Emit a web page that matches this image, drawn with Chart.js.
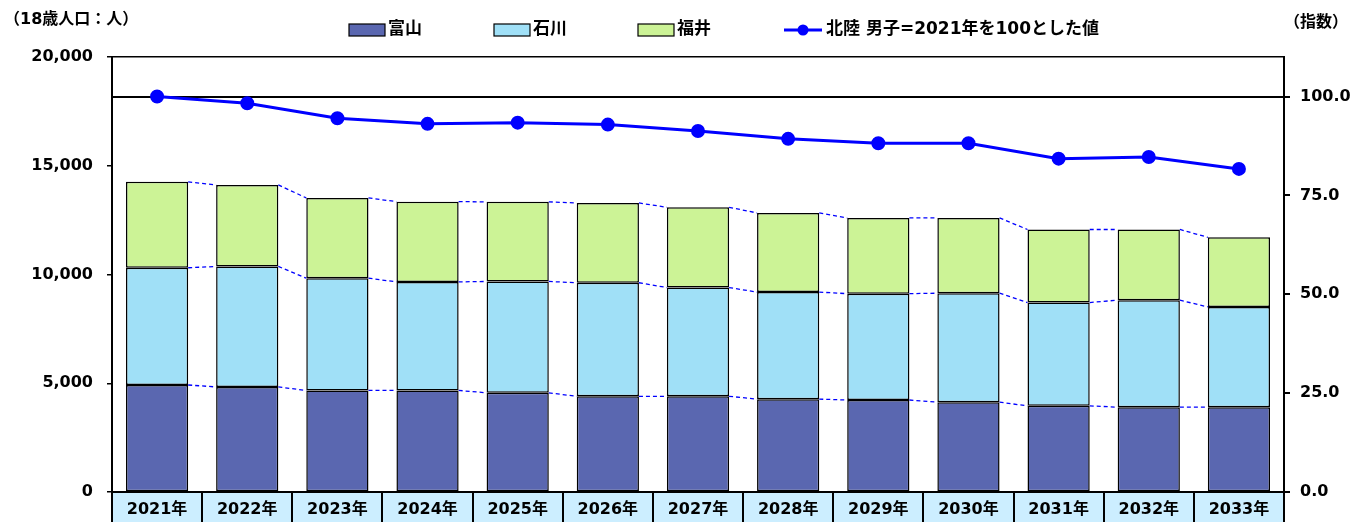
<!DOCTYPE html>
<html>
<head>
<meta charset="utf-8">
<script src="https://cdn.jsdelivr.net/npm/chart.js@4.4.1/dist/chart.umd.min.js"></script>
<style>
  html, body { margin: 0; padding: 0; background: #fff; }
</style>
</head>
<body>
<canvas id="chart" width="1361" height="522"></canvas>
<script>
const years = ['2021年', '2022年', '2023年', '2024年', '2025年', '2026年', '2027年',
  '2028年', '2029年', '2030年', '2031年', '2032年', '2033年']
const toyama = [4920, 4830, 4670, 4670, 4560, 4400, 4400, 4270, 4230, 4130, 3960, 3900, 3900]
const ishikawa = [5390, 5540, 5160, 4990, 5120, 5220, 5000, 4920, 4890, 5010, 4750, 4920, 4610]
const fukui = [3950, 3750, 3690, 3690, 3660, 3670, 3690, 3640, 3480, 3460, 3360, 3250, 3200]
const hokurikuIndex = [100, 98.3, 94.5, 93.1, 93.4, 92.9, 91.3, 89.3, 88.2, 88.2, 84.3, 84.7, 81.7]
const leftTicks = [0, 5000, 10000, 15000, 20000]
const rightTicks = [0, 25, 50, 75, 100]

const FONT = "'DejaVu Sans', 'Noto Sans CJK JP', sans-serif"

// light blue label cells under the plot, like a table header row
const cellPlugin = {
  id: 'cells',
  beforeDraw(chart) {
    const {ctx, chartArea, scales: {x}} = chart
    const step = x.getPixelForValue(1) - x.getPixelForValue(0)
    ctx.save()
    ctx.fillStyle = '#CCEEFF'
    ctx.fillRect(chartArea.left, chartArea.bottom, chartArea.right - chartArea.left, chart.height - chartArea.bottom)
    ctx.strokeStyle = '#000'
    ctx.lineWidth = 2
    for (let i = 0; i <= years.length; i++) {
      const px = Math.round(x.getPixelForValue(i) - step / 2)
      ctx.beginPath()
      ctx.moveTo(px, chartArea.bottom)
      ctx.lineTo(px, chart.height)
      ctx.stroke()
    }
    ctx.restore()
  }
}

// dashed blue lines joining the segment tops of neighbouring bars
const connectorPlugin = {
  id: 'connectors',
  beforeDatasetsDraw(chart) {
    const {ctx} = chart
    ctx.save()
    ctx.strokeStyle = '#0000FF'
    ctx.lineWidth = 1.3
    ctx.setLineDash([4, 3])
    chart.data.datasets.forEach((ds, d) => {
      if (ds.type === 'line') return
      const bars = chart.getDatasetMeta(d).data
      for (let i = 0; i < bars.length - 1; i++) {
        const a = bars[i].getProps(['x', 'y', 'width'], true)
        const b = bars[i + 1].getProps(['x', 'y', 'width'], true)
        ctx.beginPath()
        ctx.moveTo(a.x + a.width / 2, a.y)
        ctx.lineTo(b.x - b.width / 2, b.y)
        ctx.stroke()
      }
    })
    ctx.restore()
  }
}

// unit captions and the legend row at the top
const headerPlugin = {
  id: 'header',
  afterDraw(chart) {
    const {ctx} = chart
    const ds = chart.data.datasets
    ctx.save()
    ctx.fillStyle = '#000'
    ctx.textBaseline = 'middle'
    ctx.font = 'bold 16px ' + FONT
    ctx.fillText('（18歳人口：人）', 4, 20)
    ctx.fillText('（指数）', 1284, 23)

    ctx.font = 'bold 17px ' + FONT
    const boxX = [349, 494, 638]
    ds.filter(d => d.type !== 'line').forEach((d, i) => {
      ctx.fillStyle = d.backgroundColor
      ctx.fillRect(boxX[i], 24, 36, 12)
      ctx.strokeStyle = '#000'
      ctx.lineWidth = 1.2
      ctx.strokeRect(boxX[i], 24, 36, 12)
      ctx.fillStyle = '#000'
      ctx.fillText(d.label, boxX[i] + 39, 30)
    })

    const line = ds.find(d => d.type === 'line')
    ctx.strokeStyle = line.borderColor
    ctx.lineWidth = 3
    ctx.beginPath()
    ctx.moveTo(784, 30)
    ctx.lineTo(822, 30)
    ctx.stroke()
    ctx.fillStyle = line.borderColor
    ctx.beginPath()
    ctx.arc(803, 30, 5.5, 0, Math.PI * 2)
    ctx.fill()
    ctx.fillStyle = '#000'
    ctx.fillText(line.label, 826, 30)
    ctx.restore()
  }
}

const tickFont = {family: FONT, size: 16, weight: 'bold'}

const chart = new Chart('chart', {
  data: {
    labels: years,
    datasets: [
      {
        type: 'line', label: '北陸 男子=2021年を100とした値', data: hokurikuIndex, yAxisID: 'y1',
        borderColor: '#0000FF', backgroundColor: '#0000FF', borderWidth: 3,
        pointRadius: 5.5, pointHoverRadius: 5.5, tension: 0, order: 0
      },
      {
        type: 'bar', label: '富山', data: toyama, yAxisID: 'y', backgroundColor: '#5A67B0',
        borderColor: '#000', borderWidth: 1.5, borderSkipped: false, order: 1
      },
      {
        type: 'bar', label: '石川', data: ishikawa, yAxisID: 'y', backgroundColor: '#A0E0F7',
        borderColor: '#000', borderWidth: 1.5, borderSkipped: false, order: 1
      },
      {
        type: 'bar', label: '福井', data: fukui, yAxisID: 'y', backgroundColor: '#CCF396',
        borderColor: '#000', borderWidth: 1.5, borderSkipped: false, order: 1
      }
    ]
  },
  options: {
    responsive: false,
    animation: false,
    devicePixelRatio: 1,
    layout: {padding: {top: 57, left: 0, right: 0, bottom: 0}},
    datasets: {bar: {barPercentage: 0.69, categoryPercentage: 1.0}},
    plugins: {
      legend: {display: false},
      tooltip: {enabled: false}
    },
    scales: {
      x: {
        stacked: true,
        afterFit: s => { s.height = 30 },
        grid: {display: false, drawTicks: false},
        border: {display: true, color: '#000', width: 2},
        ticks: {color: '#000', font: tickFont, padding: 8, maxRotation: 0, autoSkip: false}
      },
      y: {
        position: 'left', stacked: true, min: 0, max: 20000,
        afterBuildTicks: s => { s.ticks = leftTicks.map(v => ({value: v})) },
        afterFit: s => { s.width = 112 },
        border: {display: true, color: '#000', width: 2},
        grid: {
          color: c => c.tick && c.tick.value === 20000 ? '#000' : 'rgba(0,0,0,0)',
          tickColor: '#000', tickLength: 5, lineWidth: 1.5
        },
        ticks: {color: '#000', font: tickFont, padding: 14, callback: v => v.toLocaleString('en-US')}
      },
      y1: {
        position: 'right', min: 0, max: 110,
        afterBuildTicks: s => { s.ticks = rightTicks.map(v => ({value: v})) },
        afterFit: s => { s.width = 77 },
        border: {display: true, color: '#000', width: 2},
        grid: {
          color: c => c.tick && c.tick.value === 100 ? '#000' : 'rgba(0,0,0,0)',
          tickColor: '#000', tickLength: 6, lineWidth: 2
        },
        ticks: {color: '#000', font: tickFont, padding: 10, callback: v => v.toFixed(1)}
      }
    }
  },
  plugins: [cellPlugin, connectorPlugin, headerPlugin]
})
</script>
</body>
</html>
